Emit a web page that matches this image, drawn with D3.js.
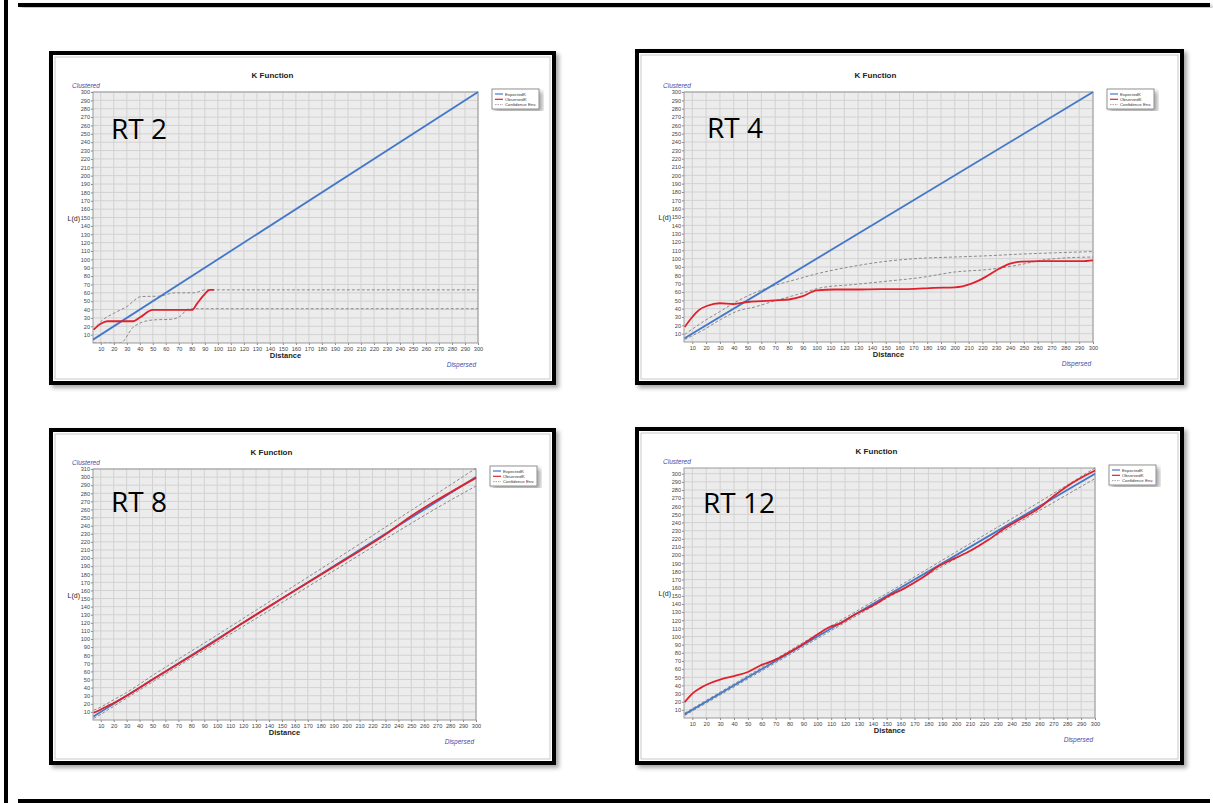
<!DOCTYPE html>
<html>
<head>
<meta charset="utf-8">
<script src="https://cdn.jsdelivr.net/npm/d3@7"></script>
<style>
  body { margin: 0; background: #fff; }
  svg { display: block; font-family: "Liberation Sans", Arial, sans-serif; }
</style>
</head>
<body>
<script>
// Side-størrelse
const w = 1213;
const h = 803;

// Akse-ticks og tekster
const xTicks = [10, 20, 30, 40, 50, 60, 70, 80, 90, 100, 110, 120, 130, 140, 150,
  160, 170, 180, 190, 200, 210, 220, 230, 240, 250, 260, 270, 280, 290, 300];
const yTicks300 = xTicks;
const yTicks310 = xTicks.concat([310]);
const legendLabels = ["ExpectedK", "ObservedK", "Confidence Env."];
const panelNames = ["RT 2", "RT 4", "RT 8", "RT 12"];

// RT 2 : [distance, L(d)]
const rt2Expected = [[4, 4], [300, 300]];
const rt2Observed = [[4.5, 16], [10, 23], [15, 26], [35, 26], [40, 30.5], [50, 39.5],
  [80, 39.5], [84, 47], [89, 57], [94, 63.5], [97, 63.5]];
const rt2Upper = [[4.5, 16], [11, 27], [20, 35.5], [30, 43.5], [41, 55.5], [55, 56],
  [67, 60], [82, 60], [90, 63.5], [300, 63.5]];
const rt2Lower = [[4.5, 0], [25, 0], [35, 19], [42, 25], [50, 27.5], [65, 28.5],
  [71, 32], [77, 40.5], [80, 41], [300, 41]];

// RT 4
const rt4Expected = [[4.4, 4.4], [300, 300]];
const rt4Observed = [[4.5, 18], [10, 30], [15, 38.5], [21, 43.5], [30, 46.5], [40, 45.5],
  [50, 48], [60, 49], [70, 50], [80, 51], [90, 55], [100, 62], [113, 63], [127, 63],
  [147, 63.5], [166, 63.5], [185, 65], [200, 65.5], [212, 70], [221, 77], [231, 87],
  [240, 94], [248, 96.5], [262, 97], [292, 97], [300, 98]];
const rt4Upper = [[4.5, 9], [18.5, 25], [30.5, 37], [42.5, 49], [55, 59], [69, 67.5],
  [86, 75.5], [103, 83], [127, 91], [151, 97], [176, 100.5], [200, 102], [224, 103.5],
  [248, 105.5], [272, 107], [300, 108.5]];
const rt4Lower = [[4.5, 3], [18.5, 15], [30.5, 27], [42.5, 37], [55, 42], [69, 49],
  [86, 57], [103, 65], [127, 69], [151, 73], [176, 77.5], [200, 84], [224, 87],
  [248, 93], [262, 98], [272, 100], [300, 102]];

// RT 8
const rt8Expected = [[4.3, 4.3], [300, 300]];
const rt8Observed = [[4.5, 9], [10, 13], [15, 17], [20, 21], [30, 30], [50, 50],
  [100, 99], [120, 120], [150, 150], [200, 199], [230, 229], [250, 252], [265, 267],
  [280, 281], [300, 299]];
const rt8Upper = [[4.5, 12], [10, 16], [20, 25], [30, 34], [50, 55], [100, 105],
  [150, 156], [200, 207], [250, 259], [300, 311]];
const rt8Lower = [[4.5, 2], [10, 7], [20, 17], [30, 27], [50, 47], [100, 96],
  [150, 145], [200, 194], [250, 243], [270, 262], [300, 289]];

// RT 12
const rt12Expected = [[4.5, 4.5], [300, 300]];
const rt12Observed = [[4.5, 19.5], [10, 30], [16, 37], [21, 41.5], [30.5, 47.5],
  [40, 51.5], [50, 56.5], [59, 64.5], [69, 71], [79, 80], [89, 90], [100, 102.5],
  [107.5, 110.5], [117, 116.5], [127, 127], [141, 139], [151, 149.5], [163, 159.5],
  [175, 171.5], [187, 186], [199, 196], [211, 206], [223, 218.5], [235, 233],
  [247, 245], [259, 257], [271, 273.5], [283, 288], [300, 304]];
const rt12Upper = [[4.5, 6], [50, 52], [100, 103], [150, 153], [200, 204], [250, 255],
  [300, 307]];
const rt12Lower = [[4.5, 3], [50, 48], [100, 97.5], [150, 147], [200, 196], [250, 245],
  [300, 294]];

// Layout for hvert panel (ramme og plot-område)
const panels = [
  { name: panelNames[0], frame: [51, 53, 503, 330], plot: [93, 92, 478, 343], yMax: 300, yTicks: yTicks300,
    rt: [111, 139], series: [rt2Expected, rt2Observed, rt2Upper, rt2Lower] },
  { name: panelNames[1], frame: [637, 51, 545, 332], plot: [684, 92, 1093, 342], yMax: 300, yTicks: yTicks300,
    rt: [707, 138], series: [rt4Expected, rt4Observed, rt4Upper, rt4Lower] },
  { name: panelNames[2], frame: [51, 430, 503, 333], plot: [93, 469, 476, 720], yMax: 310, yTicks: yTicks310,
    rt: [111, 512], series: [rt8Expected, rt8Observed, rt8Upper, rt8Lower] },
  { name: panelNames[3], frame: [637, 429, 545, 334], plot: [684, 468, 1095, 718], yMax: 307, yTicks: yTicks300,
    rt: [703, 513], series: [rt12Expected, rt12Observed, rt12Upper, rt12Lower] },
];

const svg = d3.select("body").append("svg").attr("width", w).attr("height", h);

const defs = svg.append("defs");
const shadow = defs.append("filter").attr("id", "shadow")
  .attr("x", "-5%").attr("y", "-5%").attr("width", "115%").attr("height", "115%");
shadow.append("feDropShadow").attr("dx", 3).attr("dy", 3).attr("stdDeviation", 2)
  .attr("flood-color", "#000").attr("flood-opacity", 0.35);

// Side-linjer
svg.append("rect").attr("x", 4).attr("y", 0).attr("width", 4).attr("height", h).attr("fill", "#000");
svg.append("rect").attr("x", 18).attr("y", 3).attr("width", 1192).attr("height", 4)
  .attr("fill", "#000").attr("filter", "url(#shadow)");
svg.append("rect").attr("x", 18).attr("y", 799).attr("width", 1192).attr("height", 4).attr("fill", "#000");

const colors = ["#4377c9", "#e0202c", "#8a8a8a", "#8a8a8a"];

panels.forEach(function (p, i) {
  const [fx, fy, fw, fh] = p.frame;
  const [left, top, right, bottom] = p.plot;
  const g = svg.append("g");

  // Ramme
  g.append("rect").attr("x", fx).attr("y", fy).attr("width", fw).attr("height", fh)
    .attr("fill", "#fff").attr("stroke", "#000").attr("stroke-width", 4)
    .attr("filter", "url(#shadow)");
  g.append("rect").attr("x", fx + 4).attr("y", fy + 4).attr("width", fw - 8).attr("height", fh - 8)
    .attr("fill", "none").attr("stroke", "#c9c9c9").attr("stroke-width", 1);

  const xScale = d3.scaleLinear().domain([4, 300]).range([left, right]);
  const yScale = d3.scaleLinear().domain([0, p.yMax]).range([bottom, top]);

  // Plot-baggrund
  g.append("rect").attr("x", left).attr("y", top).attr("width", right - left).attr("height", bottom - top)
    .attr("fill", "#ececec");

  // Gitter
  g.selectAll(".vgrid").data(xTicks).enter().append("line")
    .attr("x1", d => xScale(d)).attr("x2", d => xScale(d))
    .attr("y1", top).attr("y2", bottom)
    .attr("stroke", "#d2d2d2").attr("stroke-width", 1);
  g.selectAll(".hgrid").data(p.yTicks).enter().append("line")
    .attr("x1", left).attr("x2", right)
    .attr("y1", d => yScale(d)).attr("y2", d => yScale(d))
    .attr("stroke", "#d2d2d2").attr("stroke-width", 1);

  // Akser
  const xAxis = d3.axisBottom(xScale).tickValues(xTicks).tickSize(2).tickPadding(2);
  const yAxis = d3.axisLeft(yScale).tickValues(p.yTicks).tickSize(2).tickPadding(1);
  const gx = g.append("g").attr("transform", "translate(0," + bottom + ")").call(xAxis);
  const gy = g.append("g").attr("transform", "translate(" + left + ",0)").call(yAxis);
  [gx, gy].forEach(function (a) {
    a.select(".domain").remove();
    a.selectAll("line").attr("stroke", "#888");
    a.selectAll("text").attr("fill", "#444").attr("font-size", "5.6px")
      .attr("font-family", "'Liberation Sans', Arial, sans-serif");
  });

  g.append("rect").attr("x", left).attr("y", top).attr("width", right - left).attr("height", bottom - top)
    .attr("fill", "none").attr("stroke", "#9a9a9a").attr("stroke-width", 1);

  // Linjer
  const clipId = "clip" + i;
  defs.append("clipPath").attr("id", clipId).append("rect")
    .attr("x", left).attr("y", top - 1).attr("width", right - left + 1).attr("height", bottom - top + 1);
  const line = d3.line().x(d => xScale(d[0])).y(d => yScale(d[1])).curve(d3.curveMonotoneX);
  const order = [2, 3, 0, 1];
  order.forEach(function (s) {
    g.append("path").datum(p.series[s])
      .attr("clip-path", "url(#" + clipId + ")")
      .attr("d", line)
      .attr("fill", "none")
      .attr("stroke", colors[s])
      .attr("stroke-width", s < 2 ? 1.8 : 1)
      .attr("stroke-dasharray", s >= 2 ? "3,2" : null);
  });

  // Tekster
  const cx = (left + right) / 2;
  g.append("text").text("K Function").attr("x", cx - 13).attr("y", top - 14)
    .attr("text-anchor", "middle").attr("font-size", "8px").attr("font-weight", "bold").attr("fill", "#222");
  g.append("text").text("Distance").attr("x", cx).attr("y", bottom + 15)
    .attr("text-anchor", "middle").attr("font-size", "7.5px").attr("font-weight", "bold").attr("fill", "#222");
  g.append("text").text("L(d)").attr("x", left - 13).attr("y", (top + bottom) / 2 + 3)
    .attr("text-anchor", "end").attr("font-size", "7px").attr("fill", "#222");
  g.append("text").text("Clustered").attr("x", left - 21).attr("y", top - 4)
    .attr("font-size", "6.5px").attr("font-style", "italic").attr("fill", "#4a4aa8");
  g.append("text").text("Dispersed").attr("x", right - 2).attr("y", bottom + 24)
    .attr("text-anchor", "end").attr("font-size", "6.5px").attr("font-style", "italic").attr("fill", "#4a4aa8");

  // RT-etiket
  g.append("text").text(p.name).attr("x", p.rt[0]).attr("y", p.rt[1])
    .attr("font-family", "'Open Sans', sans-serif").attr("font-size", "28px").attr("fill", "#000");

  // Legende
  const lx = right + 14, ly = top - 3;
  const lg = g.append("g").attr("transform", "translate(" + lx + "," + ly + ")");
  lg.append("rect").attr("width", 47).attr("height", 20).attr("fill", "#fff")
    .attr("stroke", "#777").attr("stroke-width", 0.8).attr("filter", "url(#shadow)");
  legendLabels.forEach(function (label, k) {
    const yy = 5 + k * 5.3;
    lg.append("line").attr("x1", 3).attr("x2", 11).attr("y1", yy).attr("y2", yy)
      .attr("stroke", colors[k === 2 ? 2 : k]).attr("stroke-width", k === 2 ? 0.8 : 1.2)
      .attr("stroke-dasharray", k === 2 ? "1.5,1" : null);
    lg.append("text").text(label).attr("x", 13).attr("y", yy + 1.5)
      .attr("font-size", "4.3px").attr("fill", "#333");
  });
});
</script>
</body>
</html>
